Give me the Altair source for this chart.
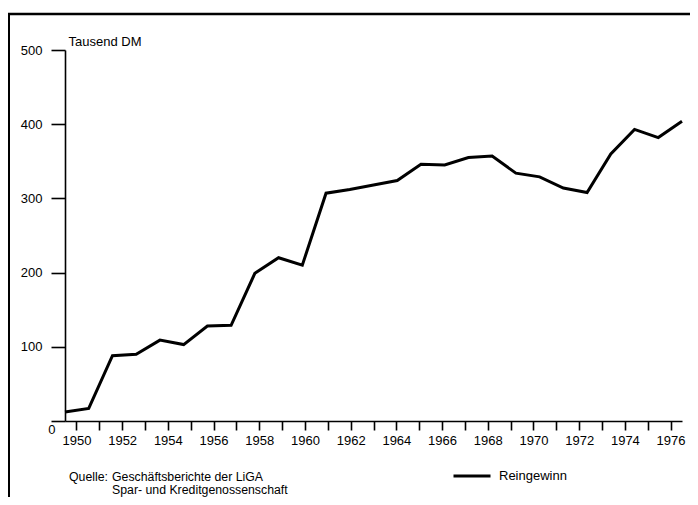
import altair as alt
import pandas as pd

# ---- data ----
years = list(range(1950, 1977))
reingewinn = [12, 17, 88, 90, 109, 103, 128, 129, 199, 220, 210, 307, 312, 318,
              324, 346, 345, 355, 357, 334, 329, 314, 308, 360, 393, 382, 404]
series_name = ["Reingewinn"] * len(years)
tick_years = list(range(1950, 1977))
y_ticks = [0, 100, 200, 300, 400, 500]
y_title = "Tausend DM"
source_label = "Quelle:"
source_lines = ["Geschäftsberichte der LiGA", "Spar- und Kreditgenossenschaft"]

FONT = "Liberation Sans"
FS = 13
FS_SRC = 12.3

df = pd.DataFrame({"Jahr": years, "Wert": reingewinn, "Reihe": series_name})
axis_df = pd.DataFrame({"Jahr": tick_years})
one = pd.DataFrame({"a": [0]})

line = alt.Chart(df).mark_line(strokeWidth=3, strokeJoin="miter").encode(
    x=alt.X("Jahr:Q", scale=alt.Scale(domain=[1950, 1976], nice=False, zero=False), axis=None),
    y=alt.Y(
        "Wert:Q",
        scale=alt.Scale(domain=[0, 500], nice=False),
        axis=alt.Axis(
            values=y_ticks,
            title=y_title,
            titleAngle=0,
            titleX=3,
            titleY=-5,
            titleAlign="left",
            titleBaseline="alphabetic",
            titleFontWeight="normal",
            titleFontSize=FS,
            titleColor="black",
            tickSize=14,
            labelPadding={"condition": {"test": "datum.value === 0", "value": -4}, "value": 9},
            labelOffset={"condition": {"test": "datum.value === 0", "value": 8}, "value": 0},
            grid=False,
            domainColor="black",
            tickColor="black",
            labelColor="black",
            domainWidth=1.6,
            tickWidth=1.6,
            labelFontSize=FS,
        ),
    ),
    color=alt.Color(
        "Reihe:N",
        scale=alt.Scale(range=["black"]),
        legend=alt.Legend(
            orient="none",
            legendX=387,
            legendY=406,
            title=None,
            symbolType="stroke",
            symbolSize=1369,
            symbolStrokeWidth=3,
            labelFontSize=FS,
            labelColor="black",
            labelOffset=7,
            padding=0,
        ),
    ),
)

axis_layer = alt.Chart(axis_df).mark_point(opacity=0).encode(
    x=alt.X(
        "Jahr:Q",
        scale=alt.Scale(domain=[1949.5, 1976.5], nice=False, zero=False),
        axis=alt.Axis(
            orient="bottom",
            values=tick_years,
            format="d",
            labelExpr="datum.value % 2 === 0 ? datum.label : ''",
            tickSize=9,
            labelPadding=4,
            grid=False,
            title=None,
            domainColor="black",
            tickColor="black",
            labelColor="black",
            domainWidth=1.6,
            tickWidth=1.6,
            labelFontSize=FS,
            labelAngle=0,
            labelFlush=False,
            labelOverlap=False,
        ),
    )
)

txt_kw = dict(align="left", baseline="alphabetic", fontSize=FS_SRC, color="black")
t1 = alt.Chart(one).mark_text(**txt_kw).encode(x=alt.value(4), y=alt.value(431), text=alt.value(source_label))
t2 = alt.Chart(one).mark_text(**txt_kw).encode(x=alt.value(47), y=alt.value(431), text=alt.value(source_lines[0]))
t3 = alt.Chart(one).mark_text(**txt_kw).encode(x=alt.value(47), y=alt.value(444), text=alt.value(source_lines[1]))

frame_left = alt.Chart(one).mark_rule(strokeWidth=3, color="black").encode(
    x=alt.value(-56.5), y=alt.value(-37), y2=alt.value(460))
frame_top = alt.Chart(one).mark_rule(strokeWidth=2.5, color="black").encode(
    x=alt.value(-57), x2=alt.value(630), y=alt.value(-36))

chart = (
    alt.layer(axis_layer, line, t1, t2, t3, frame_left, frame_top)
    .resolve_scale(x="independent")
    .properties(
        width=617,
        height=371,
        autosize=alt.AutoSizeParams(type="none"),
        padding={"left": 57, "top": 42, "right": 8, "bottom": 76},
    )
    .configure(font=FONT)
    .configure_view(stroke="transparent")
)

chart.save("out.html", embed_options={"renderer": "svg", "actions": False})
